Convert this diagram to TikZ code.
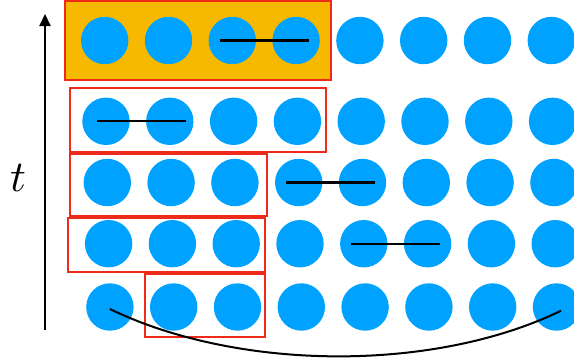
\documentclass[tikz,border=0pt]{standalone}
\usepackage{amsmath}
\usepackage{tikz}
\usetikzlibrary{arrows.meta,calc}
\definecolor{dotblue}{RGB}{0,162,255}
\definecolor{boxorange}{RGB}{247,185,0}
\definecolor{boxred}{RGB}{238,42,26}

\tikzset{
    dot/.style={circle, fill=dotblue, inner sep=0pt, minimum size=47.4pt},
    window/.style={draw=boxred, line width=2pt},
    bond/.style={line width=2.3pt, shorten <=-12.5pt, shorten >=-12.5pt},
    timearrow/.style={line width=2pt, -{Triangle[length=12pt,width=11pt]}},
    link/.style={line width=2pt}
}

\begin{document}
\begin{tikzpicture}[x=1pt, y=-1pt]
    \useasboundingbox (0,0) rectangle (574,364);

    % windows
    \draw[window, fill=boxorange] (65,1) rectangle (331,80);
    \draw[window] (70,88) rectangle (326,152);
    \draw[window] (70,154) rectangle (267,216);
    \draw[window] (68,218) rectangle (265,272);
    \draw[window] (145,274) rectangle (265,337);

    % grid of dots
    \foreach \r/\y in {1/40.5, 2/121.3, 3/182.5, 4/243.7, 5/307} {
        \foreach \c in {1,...,8} {
            \node[dot] (c\r-\c) at ({104.7 + 1.3*(\r-1) + 63.8*(\c-1)}, \y) {};
        }
    }

    % bonds
    \draw[bond] (c1-3.center) -- (c1-4.center);
    \draw[bond, shorten <=-9pt, shorten >=-16.3pt] (c2-1.center) -- (c2-2.center);
    \draw[bond] (c3-4.center) -- (c3-5.center);
    \draw[bond] (c4-5.center) -- (c4-6.center);

    % periodic link
    \draw[link] ($(c5-1.center)+(0,2)$) .. controls +(128,62) and +(-128,62) .. ($(c5-8.center)+(4.6,3.7)$);

    % time axis
    \coordinate (tail) at (45,330);
    \coordinate (head) at (45,14);
    \draw[timearrow] (tail) -- (head);
    \node[scale=4.4, inner sep=0pt] (tlabel) at (18,178.3) {$t$};
\end{tikzpicture}
\end{document}
